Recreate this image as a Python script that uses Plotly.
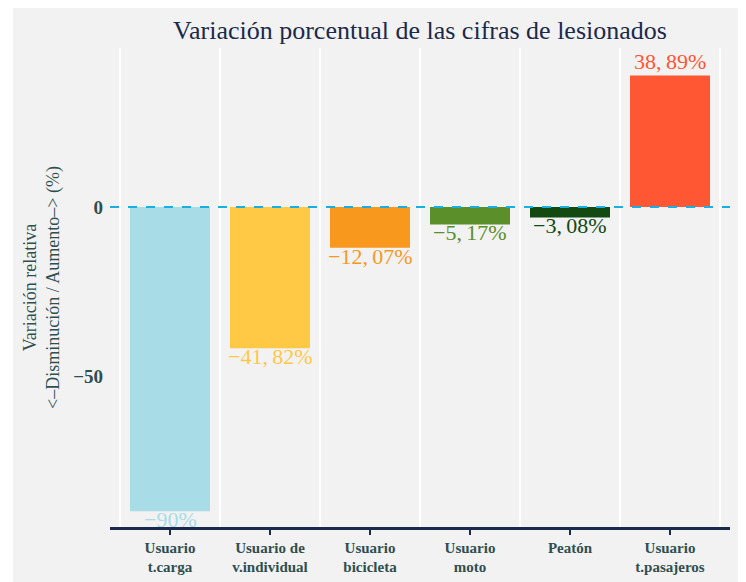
import plotly.graph_objects as go

categories = ["Usuario<br>t.carga", "Usuario de<br>v.individual", "Usuario<br>bicicleta",
              "Usuario<br>moto", "Peatón", "Usuario<br>t.pasajeros"]
values = [-90, -41.82, -12.07, -5.17, -3.08, 38.89]
labels = ["−90%", "−41,\u200982%", "−12,\u200907%", "−5,\u200917%", "−3,\u200908%", "38,\u200989%"]
colors = ["#A8DCE6", "#FFC845", "#F8981D", "#5A8F29", "#124A12", "#FF5733"]

xpos = list(range(1, len(categories) + 1))
SERIF = "Liberation Serif, Times New Roman, serif"

fig = go.Figure()
fig.add_trace(go.Bar(
    x=xpos, y=values, width=0.8,
    marker=dict(color=colors, line=dict(width=0)),
    showlegend=False, hoverinfo="x+y",
))

for x, v, t, c in zip(xpos, values, labels, colors):
    fig.add_annotation(
        x=x, y=v, text=t, showarrow=False,
        yanchor="top" if v < 0 else "bottom", yshift=6 if v < 0 else 0,
        font=dict(family=SERIF, size=22, color=c),
    )

fig.add_hline(y=0, line=dict(color="#1AAFE0", width=2, dash="dash"), layer="above")

fig.add_shape(type="rect", xref="paper", yref="paper",
              x0=-0.1565, x1=1.0177, y0=-0.13, y1=1.0856,
              fillcolor="#F2F2F2", line=dict(width=0), layer="below")

fig.update_layout(
    width=738, height=574,
    margin=dict(l=102, r=16, t=40, b=55, autoexpand=False),
    paper_bgcolor="white", plot_bgcolor="#F2F2F2",
    title=dict(text="Variación porcentual de las cifras de lesionados",
               x=412 / 738, xanchor="center", y=1 - 22 / 574, yanchor="middle",
               font=dict(family=SERIF, size=26, color="#1B2A4A")),
)

fig.update_xaxes(
    range=[0.4, 6.6], tickvals=xpos,
    ticktext=["<b>" + c.replace("<br>", "</b><br><b>") + "</b>" for c in categories],
    showgrid=False, zeroline=False, automargin=False,
    showline=True, linecolor="#1B2A4A", linewidth=2.5,
    ticks="outside", ticklen=5, tickwidth=2, tickcolor="#1B2A4A",
    tickfont=dict(family=SERIF, size=15, color="#2F4F4F"),
    minor=dict(tickvals=[0.5, 1.5, 2.5, 3.5, 4.5, 5.5, 6.5], showgrid=True,
               gridcolor="white", gridwidth=2, ticks=""),
)
fig.update_yaxes(
    range=[-94.67, 47.04], tickvals=[-50, 0], ticktext=["<b>−50</b>", "<b>0</b>"],
    showgrid=False, zeroline=False, showline=False, ticks="", automargin=False,
    ticklabelstandoff=6,
    tickfont=dict(family=SERIF, size=19, color="#2F4F4F"),
    title=dict(text="Variación relativa<br><–Disminución / Aumento–> (%)",
               font=dict(family=SERIF, size=18, color="#2F4F4F"), standoff=8),
)

fig.write_html("out.html")
